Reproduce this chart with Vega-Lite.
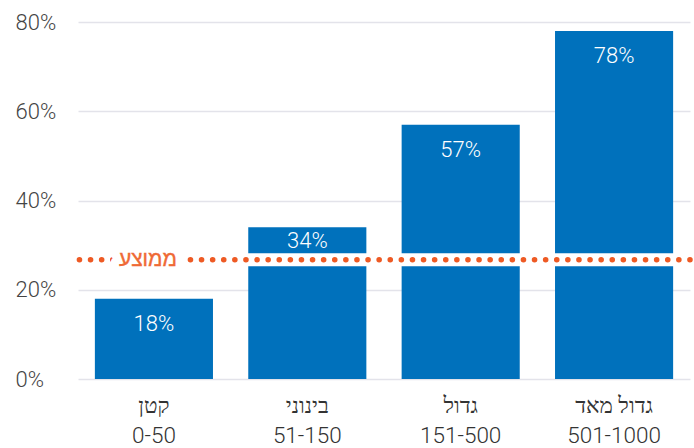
{
  "$schema": "https://vega.github.io/schema/vega-lite/v6.json",
  "width": 612,
  "height": 357,
  "autosize": {"type": "none"},
  "padding": {"left": 78, "top": 22, "right": 4, "bottom": 69},
  "background": "white",
  "config": {
    "view": {"stroke": null},
    "font": "Liberation Sans"
  },
  "datasets": {
    "bars": [
      {"cat": "קטן|0-50", "value": 0.18},
      {"cat": "בינוני|51-150", "value": 0.34},
      {"cat": "גדול|151-500", "value": 0.57},
      {"cat": "גדול מאד|501-1000", "value": 0.78}
    ],
    "avg": [
      {"cat": "קטן|0-50", "avg": 0.267, "label": "ממוצע"}
    ]
  },
  "layer": [
    {
      "data": {"name": "bars"},
      "mark": {"type": "bar", "color": "#0071BC"},
      "encoding": {
        "x": {
          "field": "cat", "type": "nominal", "sort": null,
          "scale": {"paddingInner": 0.23, "paddingOuter": 0.11},
          "axis": {
            "title": null, "domain": false, "ticks": false,
            "labelAngle": 0,
            "labelExpr": "split(datum.label, '|')",
            "labelFont": "Roboto, DejaVu Sans", "labelFontWeight": 300, "labelFontSize": 22.5,
            "labelColor": "#333333", "labelPadding": 15, "labelLineHeight": 30
          }
        },
        "y": {
          "field": "value", "type": "quantitative",
          "scale": {"domain": [0, 0.8]},
          "axis": {
            "title": null, "domain": false, "ticks": false,
            "format": ".0%", "values": [0, 0.2, 0.4, 0.6, 0.8],
            "labelAlign": "left", "labelPadding": 63,
            "labelFont": "Roboto", "labelFontWeight": 300, "labelFontSize": 22,
            "labelColor": "#444444",
            "gridColor": "#E3E3EA", "gridWidth": 1.5
          }
        }
      }
    },
    {
      "data": {"name": "bars"},
      "transform": [{"filter": "datum.value < 0.267 || datum.value > 0.4"}],
      "mark": {"type": "text", "color": "white", "baseline": "middle", "dy": 25, "fontSize": 22, "font": "Roboto", "fontWeight": 300},
      "encoding": {
        "x": {"field": "cat", "type": "nominal", "sort": null},
        "y": {"field": "value", "type": "quantitative"},
        "text": {"field": "value", "type": "quantitative", "format": ".0%"}
      }
    },
    {
      "data": {"name": "bars"},
      "transform": [{"filter": "datum.value >= 0.267 && datum.value <= 0.4"}],
      "mark": {"type": "text", "color": "white", "baseline": "middle", "dy": 14, "fontSize": 22, "font": "Roboto", "fontWeight": 300},
      "encoding": {
        "x": {"field": "cat", "type": "nominal", "sort": null},
        "y": {"field": "value", "type": "quantitative"},
        "text": {"field": "value", "type": "quantitative", "format": ".0%"}
      }
    },
    {
      "data": {"name": "avg"},
      "mark": {"type": "rule", "color": "white", "strokeWidth": 13},
      "encoding": {"y": {"field": "avg", "type": "quantitative"}}
    },
    {
      "data": {"name": "avg"},
      "mark": {"type": "rule", "color": "#EE5A24", "strokeWidth": 5.5, "strokeCap": "round", "strokeDash": [0.1, 11]},
      "encoding": {"y": {"field": "avg", "type": "quantitative"}}
    },
    {
      "data": {"name": "avg"},
      "mark": {"type": "text", "color": "white", "stroke": "white", "strokeWidth": 18, "strokeJoin": "round", "fontSize": 21, "baseline": "middle", "dx": -6, "font": "Liberation Sans"},
      "encoding": {
        "x": {"field": "cat", "type": "nominal", "sort": null},
        "y": {"field": "avg", "type": "quantitative"},
        "text": {"field": "label"}
      }
    },
    {
      "data": {"name": "avg"},
      "mark": {"type": "text", "color": "#EF6A35", "stroke": "#EF6A35", "strokeWidth": 0.4, "fontSize": 21, "baseline": "middle", "dx": -6, "font": "Liberation Sans"},
      "encoding": {
        "x": {"field": "cat", "type": "nominal", "sort": null},
        "y": {"field": "avg", "type": "quantitative"},
        "text": {"field": "label"}
      }
    }
  ]
}
